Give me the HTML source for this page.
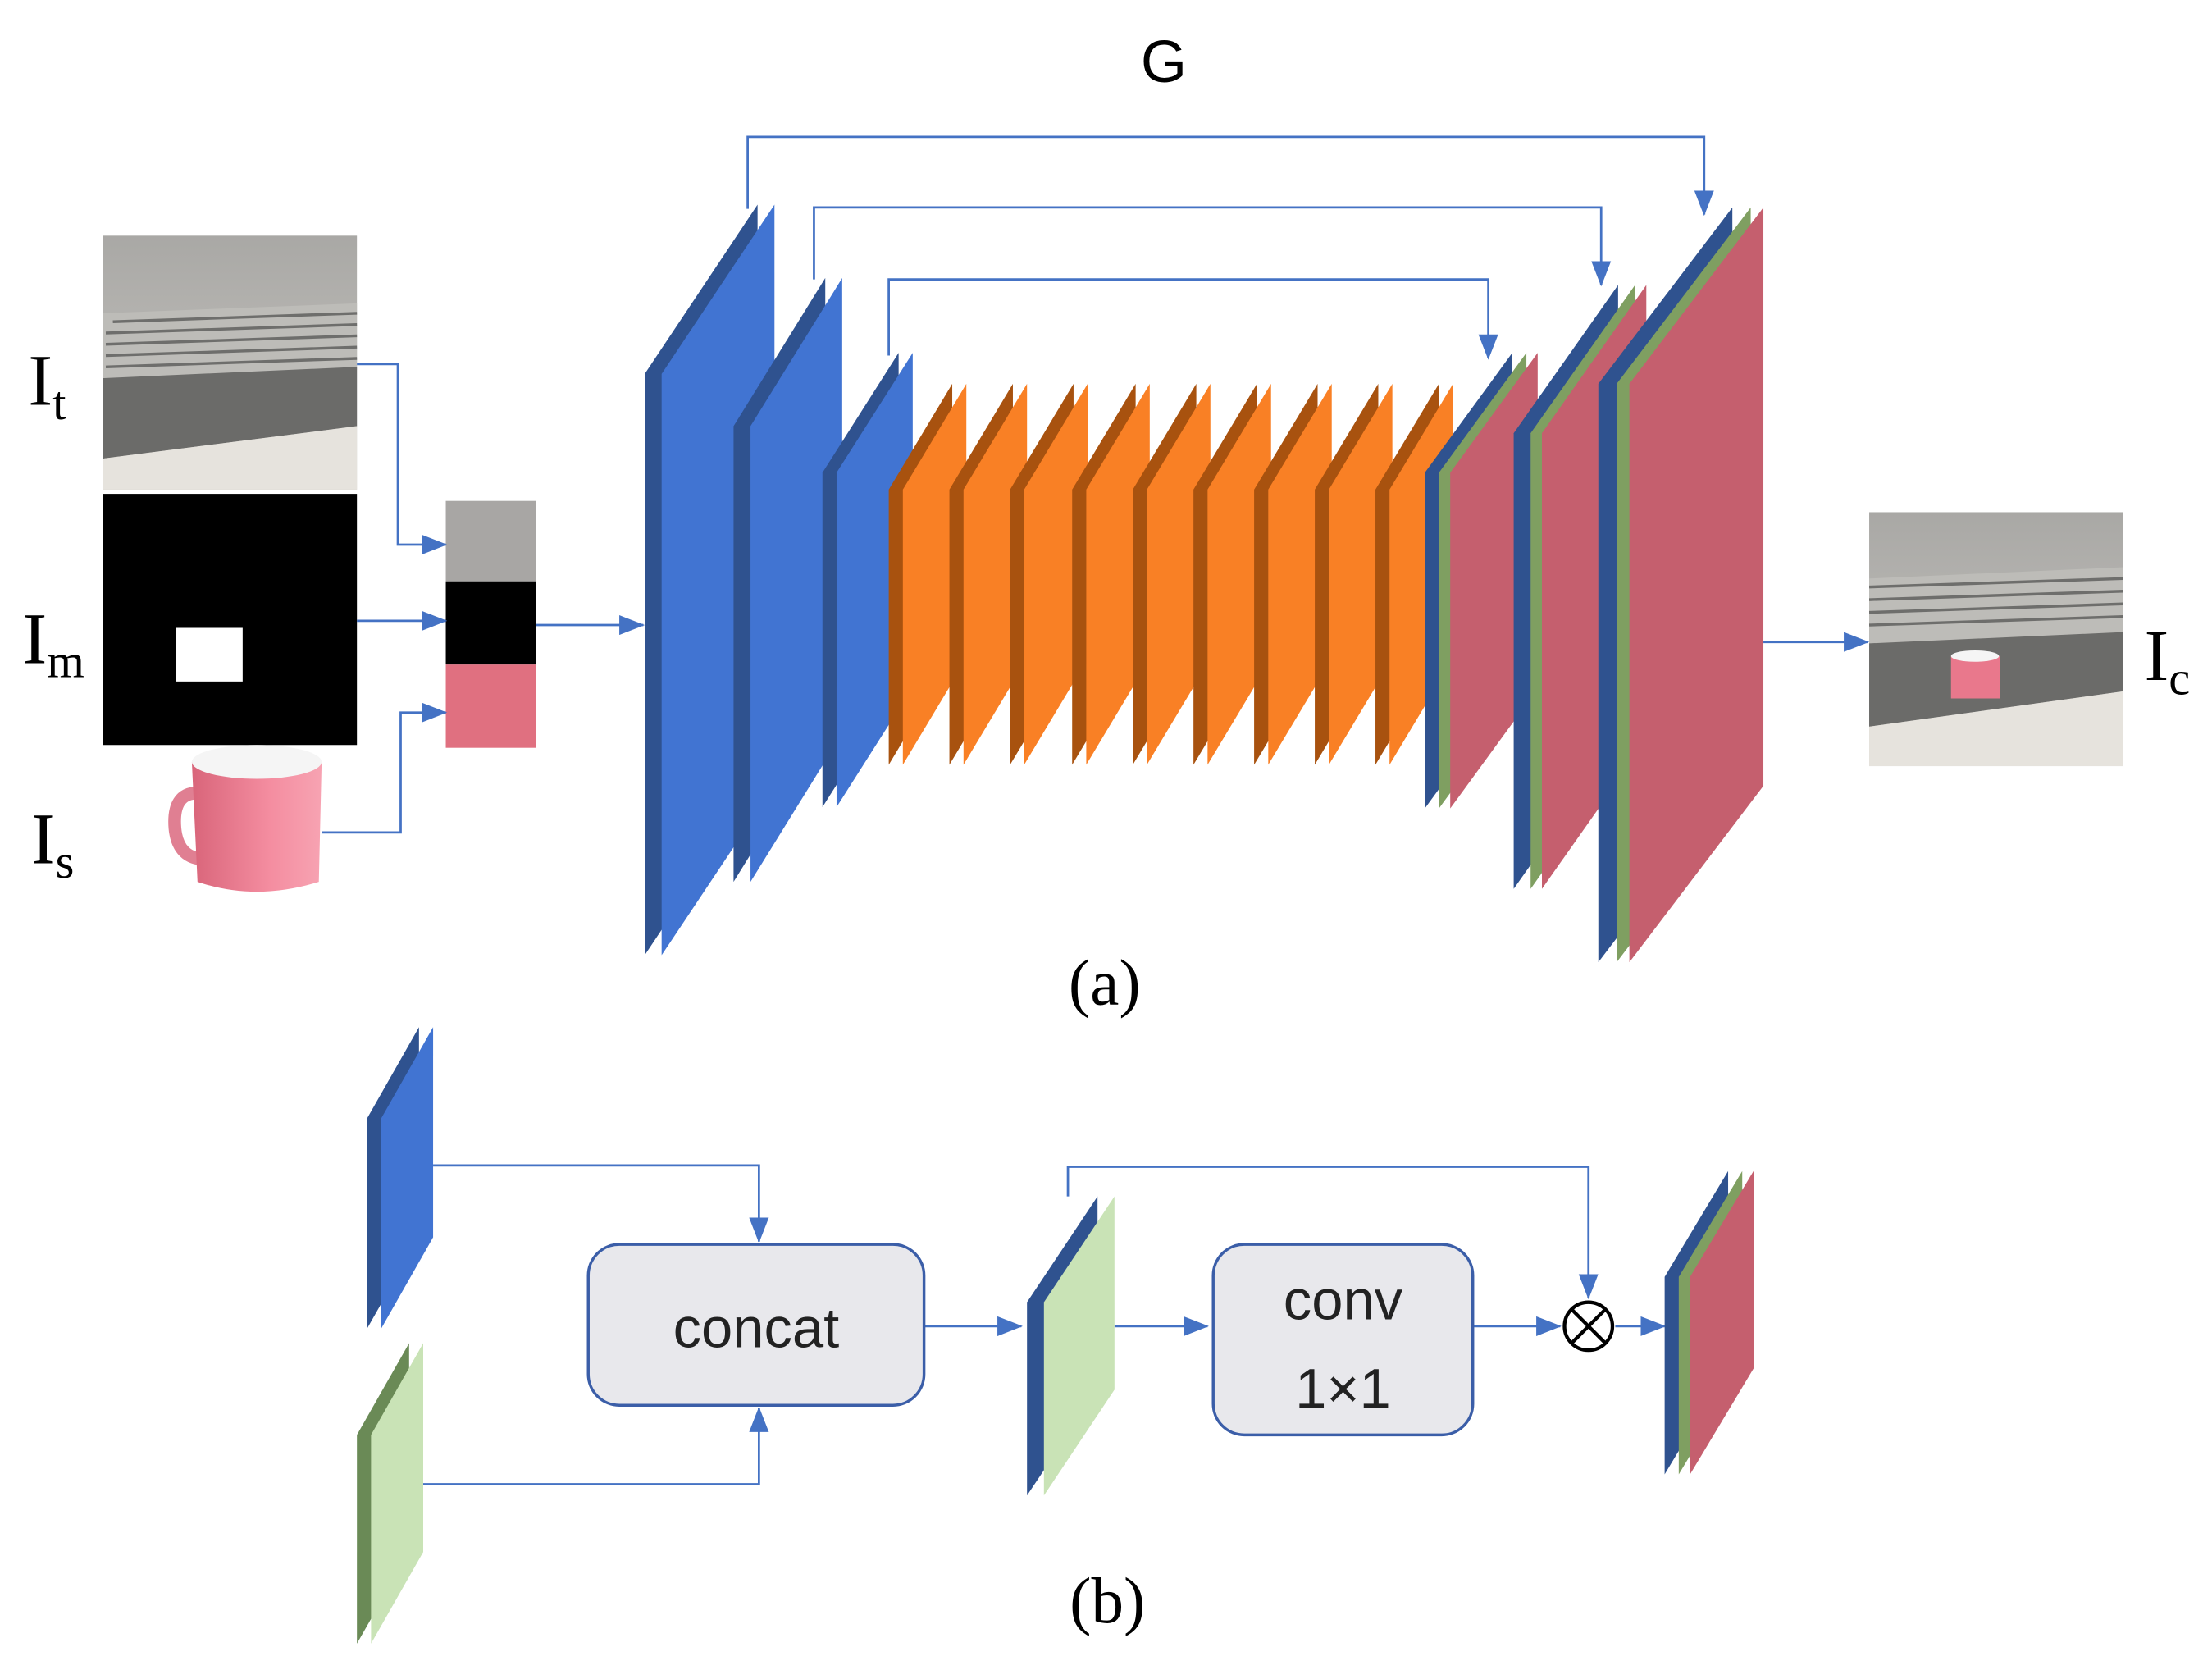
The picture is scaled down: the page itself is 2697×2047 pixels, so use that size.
<!DOCTYPE html>
<html><head><meta charset="utf-8"><style>
html,body{margin:0;padding:0;background:#fff;}
svg{display:block;}
</style></head><body>
<svg width="2697" height="2047" viewBox="0 0 1568 1190" xmlns="http://www.w3.org/2000/svg">
<defs>
<marker id="ah" markerUnits="userSpaceOnUse" markerWidth="18" markerHeight="14" refX="17" refY="7" orient="auto">
<path d="M0,0 L18,7 L0,14 z" fill="#4472c4"/>
</marker>
<linearGradient id="wall" x1="0" y1="0" x2="0" y2="1"><stop offset="0" stop-color="#a9a8a5"/><stop offset="1" stop-color="#c9c7c3"/></linearGradient>
<linearGradient id="cup" x1="0" y1="0" x2="1" y2="0"><stop offset="0" stop-color="#d9657a"/><stop offset="0.6" stop-color="#f48da0"/><stop offset="1" stop-color="#f7a3b2"/></linearGradient>
</defs>
<rect width="1568" height="1190" fill="#fff"/>

<!-- labels -->
<g font-family="Liberation Serif, serif" fill="#000">
<text x="20" y="287" font-size="52">I<tspan font-size="34" dy="10">t</tspan></text>
<text x="16" y="470" font-size="52">I<tspan font-size="34" dy="10">m</tspan></text>
<text x="22" y="612" font-size="52">I<tspan font-size="34" dy="10">s</tspan></text>
<text x="1520" y="482" font-size="52">I<tspan font-size="34" dy="10">c</tspan></text>
<text x="783" y="712" font-size="46" text-anchor="middle">(a)</text>
<text x="785" y="1150" font-size="46" text-anchor="middle">(b)</text>
</g>
<text x="825" y="58" font-family="Liberation Sans, sans-serif" font-size="42" text-anchor="middle">G</text>

<!-- It image -->
<rect x="73" y="167" width="180" height="180" fill="url(#wall)"/>
<polygon points="73,222 253,215 253,262 73,268" fill="#bdbcb8"/>
<g stroke="#6e6e6c" stroke-width="2">
<line x1="80" y1="228" x2="253" y2="222"/><line x1="75" y1="236" x2="253" y2="230"/><line x1="75" y1="244" x2="253" y2="238"/><line x1="75" y1="252" x2="253" y2="246"/><line x1="75" y1="260" x2="253" y2="254"/>
</g>
<polygon points="73,268 253,260 253,302 73,325" fill="#6b6b69"/>
<polygon points="73,325 253,302 253,347 73,347" fill="#e6e3dd"/>
<!-- Im -->
<rect x="73" y="350" width="180" height="178" fill="#000"/>
<rect x="125" y="445" width="47" height="38" fill="#fff"/>
<!-- Is cup -->
<path d="M140,562 q-18,0 -16,25 q2,22 22,22" fill="none" stroke="#e07f92" stroke-width="9"/>
<path d="M136,540 L228,540 L226,625 q-45,14 -86,0 z" fill="url(#cup)"/>
<ellipse cx="182" cy="540" rx="46" ry="12" fill="#f5f5f5"/>
<!-- stack -->
<rect x="316" y="355" width="64" height="57" fill="#a8a6a4"/>
<rect x="316" y="412" width="64" height="59" fill="#000"/>
<rect x="316" y="471" width="64" height="59" fill="#e07080"/>

<g fill="none" stroke="#4472c4" stroke-width="1.6">
<polyline points="253,258 282,258 282,386 316,386" marker-end="url(#ah)"/>
<polyline points="253,440 316,440" marker-end="url(#ah)"/>
<polyline points="228,590 284,590 284,505 316,505" marker-end="url(#ah)"/>
<polyline points="380,443 456,443" marker-end="url(#ah)"/>
<polyline points="530,148 530,97 1208,97 1208,152" marker-end="url(#ah)"/>
<polyline points="577,198 577,147 1135,147 1135,202" marker-end="url(#ah)"/>
<polyline points="630,252 630,198 1055,198 1055,254" marker-end="url(#ah)"/>
<polyline points="1250,455 1324,455" marker-end="url(#ah)"/>
</g>

<!-- encoder slabs -->
<polygon points="457,265 537,145 537,557 457,677" fill="#2f528f"/>
<polygon points="469,265 549,145 549,557 469,677" fill="#4174d2"/>
<polygon points="520,302 585,197 585,520 520,625" fill="#2f528f"/>
<polygon points="532,302 597,197 597,520 532,625" fill="#4174d2"/>
<polygon points="583,335 637,250 637,487 583,572" fill="#2f528f"/>
<polygon points="593,335 647,250 647,487 593,572" fill="#4174d2"/>

<!-- orange -->
<g id="o0">
<polygon points="630,347 675,272 675,467 630,542" fill="#a8520f"/>
<polygon points="640,347 685,272 685,467 640,542" fill="#f98025"/>
</g>
<use href="#o0" transform="translate(43,0)"/>
<use href="#o0" transform="translate(86,0)"/>
<use href="#o0" transform="translate(130,0)"/>
<use href="#o0" transform="translate(173,0)"/>
<use href="#o0" transform="translate(216,0)"/>
<use href="#o0" transform="translate(259,0)"/>
<use href="#o0" transform="translate(302,0)"/>
<use href="#o0" transform="translate(345,0)"/>

<!-- decoder slabs -->
<g transform="translate(1010,0)">
<polygon points="0,335 62,250 62,488 0,573" fill="#2f528f"/>
<polygon transform="translate(10,0)" points="0,335 62,250 62,488 0,573" fill="#7f9f61"/>
<polygon transform="translate(18,0)" points="0,335 62,250 62,488 0,573" fill="#c55f6e"/>
</g>
<g transform="translate(1073,0)">
<polygon points="0,307 74,202 74,525 0,630" fill="#2f528f"/>
<polygon transform="translate(12,0)" points="0,307 74,202 74,525 0,630" fill="#7f9f61"/>
<polygon transform="translate(20,0)" points="0,307 74,202 74,525 0,630" fill="#c55f6e"/>
</g>
<g transform="translate(1133,0)">
<polygon points="0,272 95,147 95,557 0,682" fill="#2f528f"/>
<polygon transform="translate(13,0)" points="0,272 95,147 95,557 0,682" fill="#7f9f61"/>
<polygon transform="translate(22,0)" points="0,272 95,147 95,557 0,682" fill="#c55f6e"/>
</g>

<!-- Ic image -->
<rect x="1325" y="363" width="180" height="180" fill="url(#wall)"/>
<polygon points="1325,410 1505,402 1505,450 1325,456" fill="#bdbcb8"/>
<g stroke="#6e6e6c" stroke-width="2">
<line x1="1325" y1="416" x2="1505" y2="410"/><line x1="1325" y1="425" x2="1505" y2="419"/><line x1="1325" y1="434" x2="1505" y2="428"/><line x1="1325" y1="443" x2="1505" y2="437"/>
</g>
<polygon points="1325,456 1505,448 1505,490 1325,515" fill="#6b6b69"/>
<polygon points="1325,515 1505,490 1505,543 1325,543" fill="#e6e3dd"/>
<rect x="1383" y="465" width="35" height="30" fill="#e9788c"/>
<ellipse cx="1400" cy="465" rx="17" ry="4" fill="#f5f5f5"/>

<!-- part b -->
<polygon points="260,793 297,728 297,877 260,942" fill="#2f528f"/>
<polygon points="270,793 307,728 307,877 270,942" fill="#4174d2"/>
<polygon points="253,1017 290,952 290,1100 253,1165" fill="#6a8a56"/>
<polygon points="263,1017 300,952 300,1100 263,1165" fill="#c9e3b6"/>

<g fill="none" stroke="#4472c4" stroke-width="1.6">
<polyline points="307,826 538,826 538,880" marker-end="url(#ah)"/>
<polyline points="300,1052 538,1052 538,998" marker-end="url(#ah)"/>
<polyline points="655,940 724,940" marker-end="url(#ah)"/>
<polyline points="790,940 856,940" marker-end="url(#ah)"/>
<polyline points="1044,940 1106,940" marker-end="url(#ah)"/>
<polyline points="757,848 757,827 1126,827 1126,920" marker-end="url(#ah)"/>
<polyline points="1145,940 1180,940" marker-end="url(#ah)"/>
</g>

<rect x="417" y="882" width="238" height="114" rx="22" fill="#e8e8ec" stroke="#3b5ea8" stroke-width="2"/>
<text x="536" y="955" font-family="Liberation Sans, sans-serif" font-size="40" text-anchor="middle" fill="#222">concat</text>
<rect x="860" y="882" width="184" height="135" rx="22" fill="#e8e8ec" stroke="#3b5ea8" stroke-width="2"/>
<text x="952" y="935" font-family="Liberation Sans, sans-serif" font-size="40" text-anchor="middle" fill="#222">conv</text>
<text x="952" y="998" font-family="Liberation Sans, sans-serif" font-size="40" text-anchor="middle" fill="#222">1×1</text>

<g transform="translate(728,0)">
<polygon points="0,923 50,848 50,985 0,1060" fill="#2f528f"/>
<polygon transform="translate(12,0)" points="0,923 50,848 50,985 0,1060" fill="#c9e3b6"/>
</g>

<circle cx="1126" cy="940" r="17" fill="#fff" stroke="#000" stroke-width="2.5"/>
<line x1="1114" y1="928" x2="1138" y2="952" stroke="#000" stroke-width="2.5"/>
<line x1="1138" y1="928" x2="1114" y2="952" stroke="#000" stroke-width="2.5"/>

<g transform="translate(1180,0)">
<polygon points="0,905 45,830 45,970 0,1045" fill="#2f528f"/>
<polygon transform="translate(10,0)" points="0,905 45,830 45,970 0,1045" fill="#7f9f61"/>
<polygon transform="translate(18,0)" points="0,905 45,830 45,970 0,1045" fill="#c55f6e"/>
</g>
</svg>
</body></html>
